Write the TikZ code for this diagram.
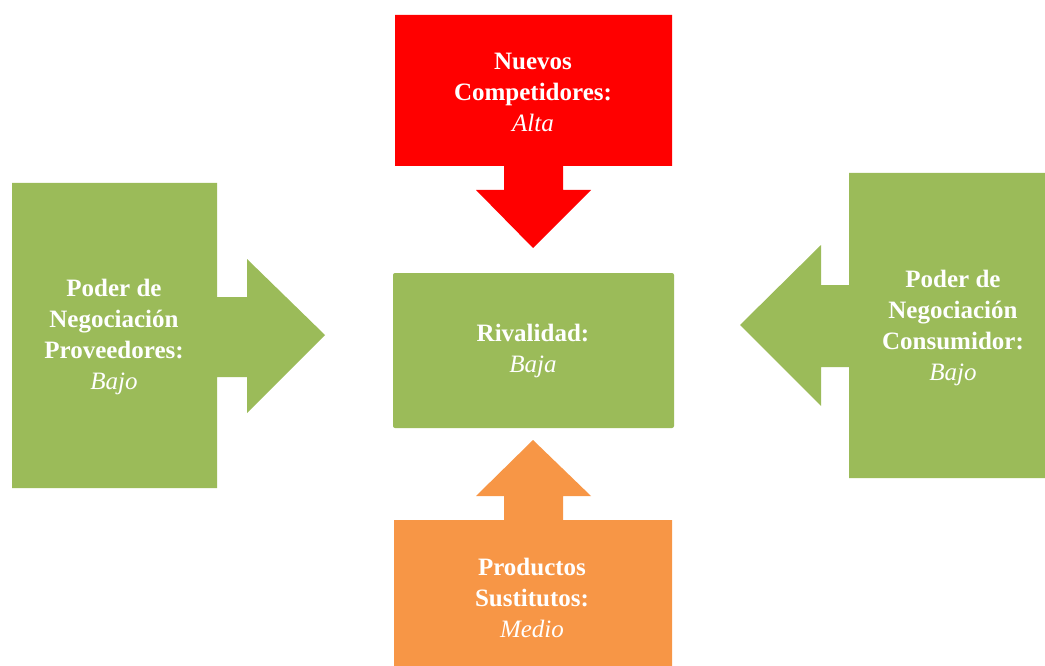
\documentclass[tikz,border=0pt]{standalone}
\usepackage{fontspec}
\setmainfont{Liberation Serif}
\definecolor{rojo}{HTML}{FF0000}
\definecolor{verde}{HTML}{9BBB59}
\definecolor{naranja}{HTML}{F79646}
\begin{document}
\begin{tikzpicture}[x=1pt,y=-1pt,
  lbl/.style={text=white, align=center, inner sep=0pt,
    font=\fontsize{25}{31}\selectfont\bfseries},
  val/.style={font=\mdseries\itshape}]
\useasboundingbox (0,0) rectangle (1045,666);

% Nuevos competidores: box with arrow pointing down
\fill[rojo] (395,15) -- (672,15) -- (672,166) -- (563,166) -- (563,190)
  -- (591,190) -- (533,248) -- (476,190) -- (504,190) -- (504,166)
  -- (395,166) -- cycle;
\node[lbl] (nuevos) at (533,92) {Nuevos\\Competidores:\\{\mdseries\itshape Alta}};

% Proveedores: box with arrow pointing right
\fill[verde] (12,183) -- (217,183) -- (217,297) -- (247,297) -- (247,259)
  -- (325,335) -- (247,413) -- (247,377) -- (217,377) -- (217,488)
  -- (12,488) -- cycle;
\node[lbl] (proveedores) at (114,337) {Poder de\\Negociación\\Proveedores:\\{\mdseries\itshape Bajo}};

% Consumidor: box with arrow pointing left
\fill[verde] (1045,173) -- (849,173) -- (849,285) -- (821,285) -- (821,245)
  -- (740,325) -- (821,406) -- (821,367) -- (849,367) -- (849,478)
  -- (1045,478) -- cycle;
\node[lbl] (consumidor) at (953,328) {Poder de\\Negociación\\Consumidor:\\{\mdseries\itshape Bajo}};

% Rivalidad: central box
\fill[verde, rounded corners=2pt] (393,273) rectangle (674,428);
\node[lbl] (rivalidad) at (533,351) {Rivalidad:\\{\mdseries\itshape Baja}};

% Productos sustitutos: box with arrow pointing up
\fill[naranja] (394,666) -- (394,520) -- (504,520) -- (504,496) -- (476,496)
  -- (533,440) -- (591,496) -- (563,496) -- (563,520) -- (672,520)
  -- (672,666) -- cycle;
\node[lbl] (sustitutos) at (532,598) {Productos\\Sustitutos:\\{\mdseries\itshape Medio}};
\end{tikzpicture}
\end{document}
